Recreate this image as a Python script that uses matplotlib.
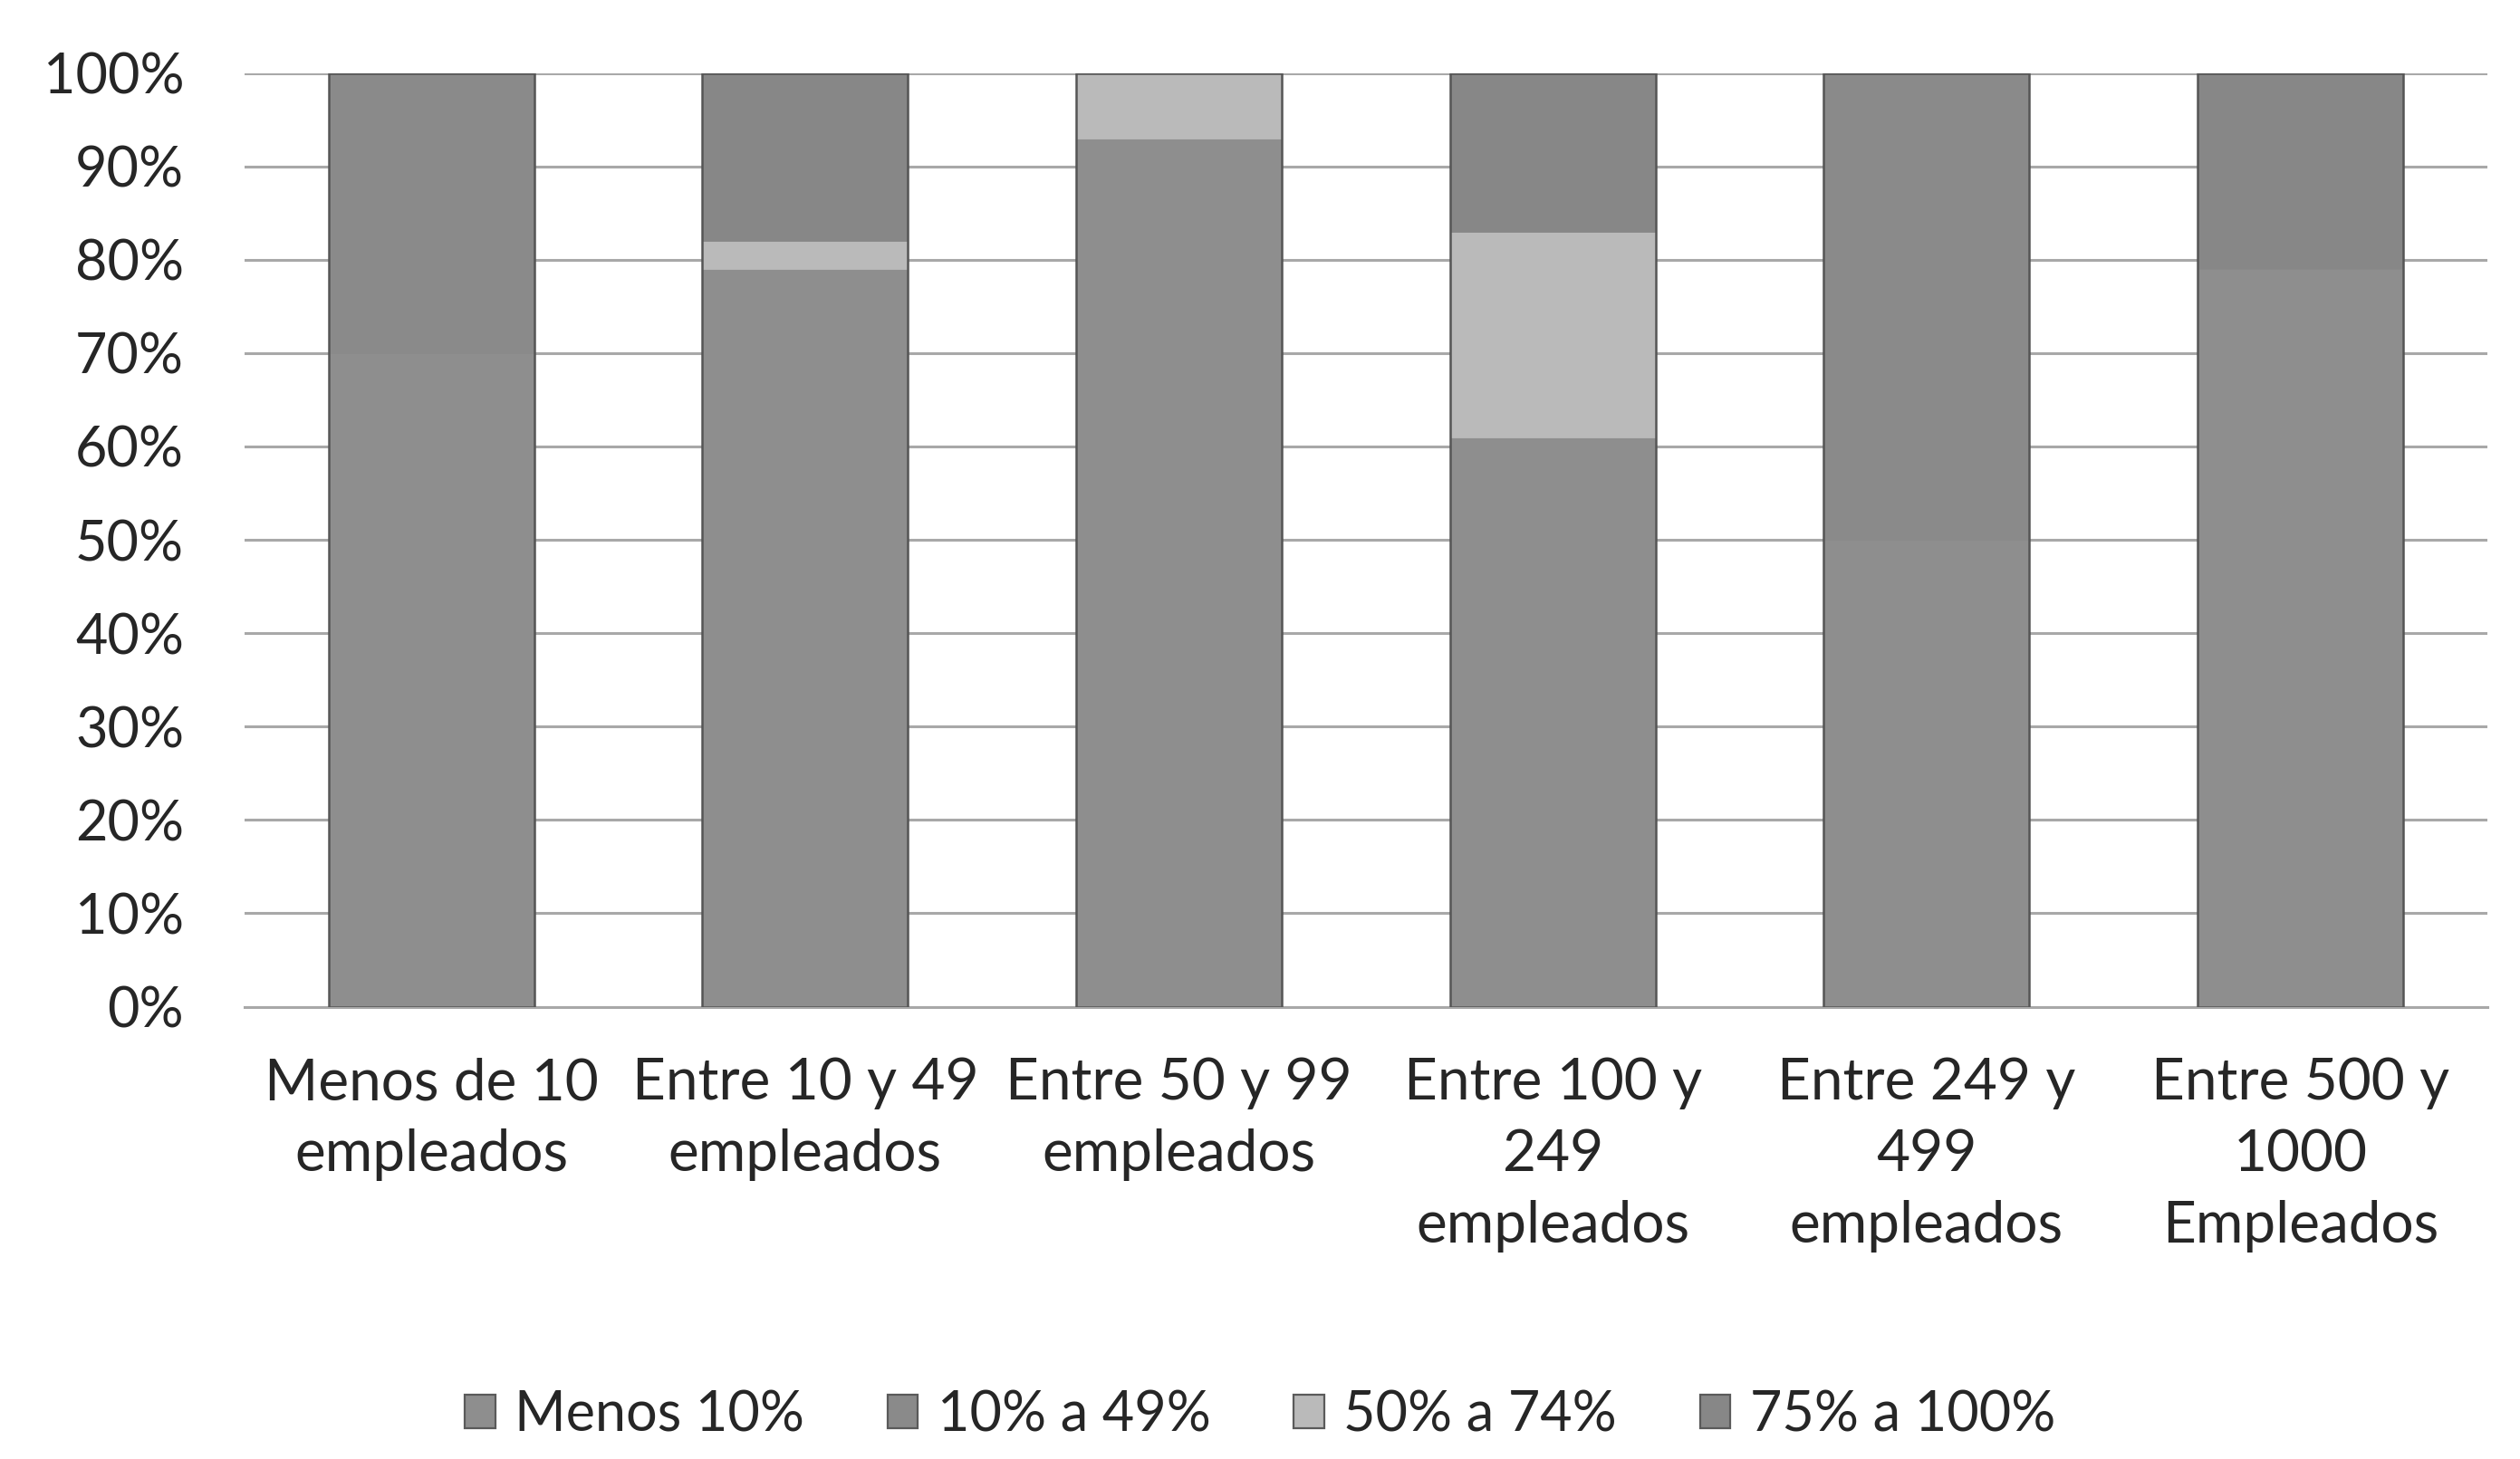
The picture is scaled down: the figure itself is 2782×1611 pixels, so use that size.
import matplotlib
matplotlib.use("Agg")
import matplotlib.pyplot as plt
import numpy as np
from matplotlib.ticker import PercentFormatter
from matplotlib.patches import Patch

plt.rcParams['font.family'] = ['Lato', 'DejaVu Sans']

categories = [
    "Menos de 10\nempleados",
    "Entre 10 y 49\nempleados",
    "Entre 50 y 99\nempleados",
    "Entre 100 y\n249\nempleados",
    "Entre 249 y\n499\nempleados",
    "Entre 500 y\n1000\nEmpleados",
]
series_names = ["Menos 10%", "10% a 49%", "50% a 74%", "75% a 100%"]

menos_10 = [70, 79, 93, 61, 50, 79]
de_10_a_49 = [30, 0, 0, 0, 50, 0]
de_50_a_74 = [0, 3, 7, 22, 0, 0]
de_75_a_100 = [0, 18, 0, 17, 0, 21]

series_values = [menos_10, de_10_a_49, de_50_a_74, de_75_a_100]
series_colors = ["#8e8e8e", "#8a8a8a", "#bababa", "#878787"]

fig = plt.figure(figsize=(13.91, 8.055), dpi=200)
ax = fig.add_axes([0.097, 0.31, 0.89, 0.64])

x = np.arange(len(categories))
bar_width = 0.55
bottom = np.zeros(len(categories))
for name, vals, color in zip(series_names, series_values, series_colors):
    v = np.array(vals, dtype=float) / 100.0
    ax.bar(x, v, bottom=bottom, width=bar_width, color=color,
           edgecolor=color, linewidth=0.3, label=name, zorder=3)
    bottom += v

# thin dark outline around each whole stacked column
ax.bar(x, bottom, width=bar_width, fill=False, edgecolor="#555555",
       linewidth=0.9, zorder=4)

ax.set_xlim(-0.5, len(categories) - 0.5)
ax.set_ylim(0, 1)
ax.set_yticks(np.arange(0, 1.01, 0.1))
ax.yaxis.set_major_formatter(PercentFormatter(1.0, decimals=0))
ax.grid(axis="y", color="#a8a8a8", linewidth=1.1, zorder=0)
ax.set_axisbelow(True)
for s in ax.spines.values():
    s.set_visible(False)
ax.spines["bottom"].set_visible(True)
ax.spines["bottom"].set_color("#a8a8a8")
ax.spines["bottom"].set_linewidth(1.1)

ax.set_xticks(x)
ax.set_xticklabels(categories, fontsize=23, color="#262626", linespacing=1.45)
ax.tick_params(axis="x", length=0, pad=20)
ax.tick_params(axis="y", length=0, pad=24, labelsize=22, labelcolor="#262626")

handles = [Patch(facecolor=c, edgecolor="#5a5a5a", linewidth=0.8) for c in series_colors]
fig.legend(handles, series_names, loc="center", bbox_to_anchor=(0.5, 0.03),
           ncol=4, frameon=False, fontsize=22, labelcolor="#262626",
           handlelength=0.55, handleheight=0.55, handletextpad=0.35,
           columnspacing=1.5)

fig.savefig("out.png", dpi=200, facecolor="white")
